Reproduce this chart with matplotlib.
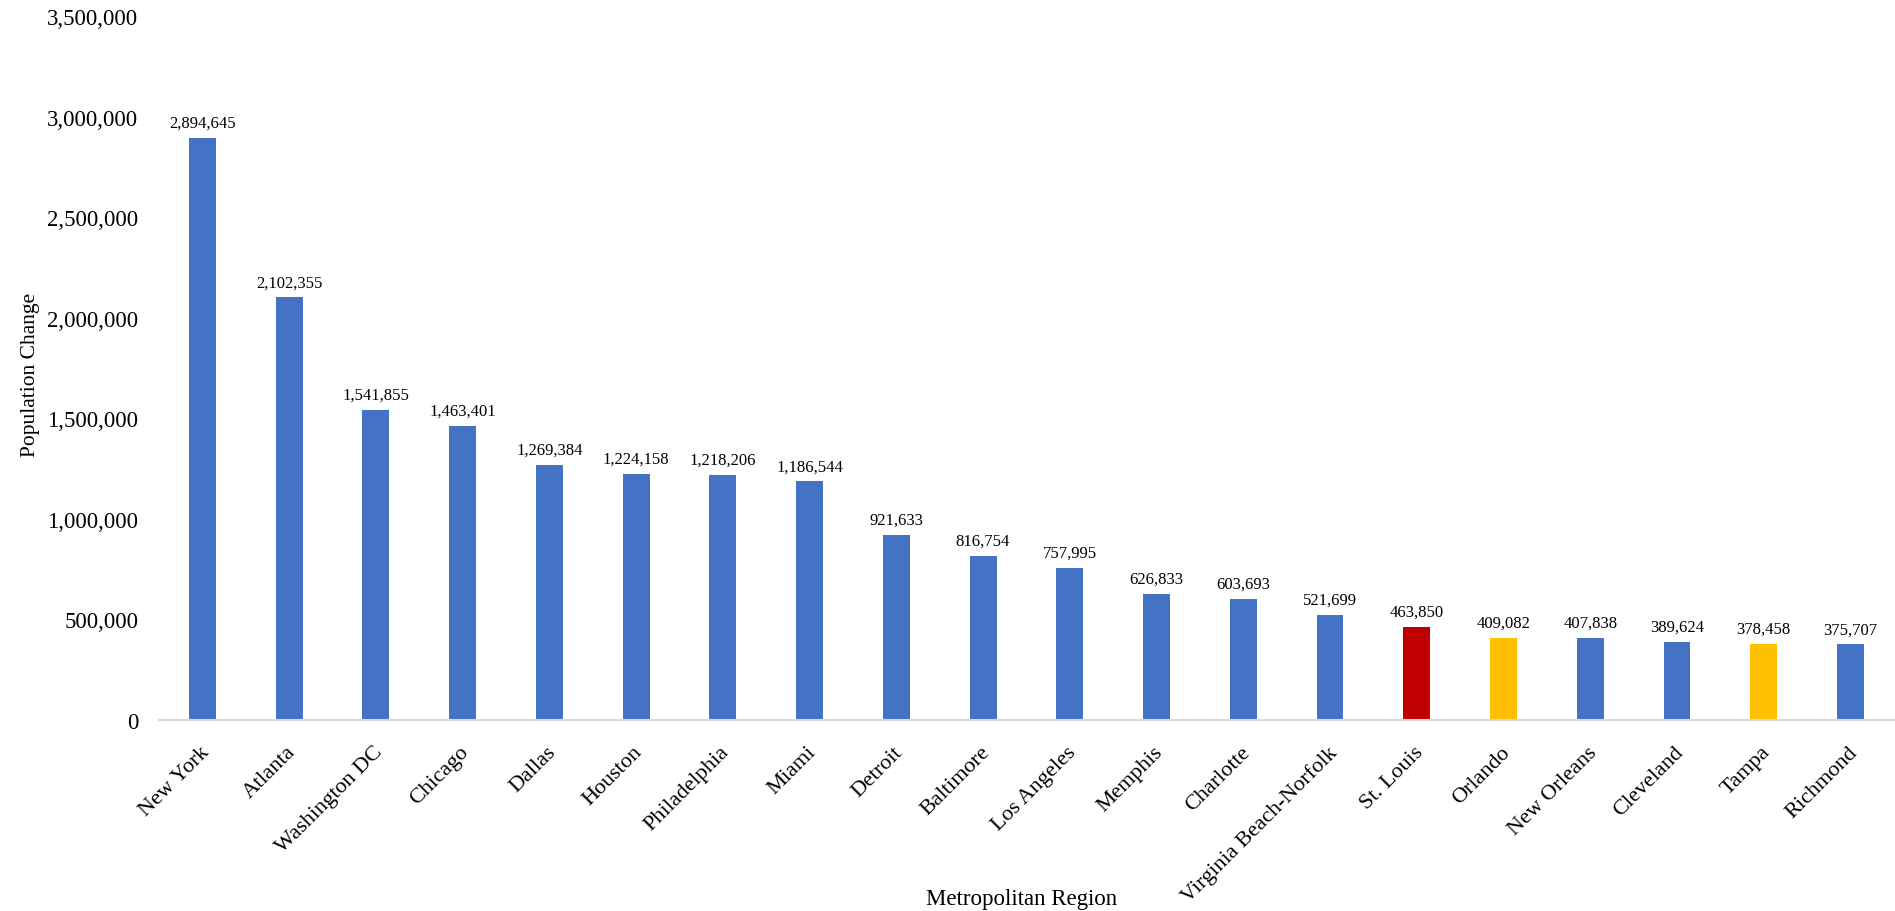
import matplotlib
matplotlib.use("Agg")
import matplotlib.pyplot as plt
import matplotlib.transforms as mtransforms
from matplotlib.ticker import FuncFormatter

regions = ["New York", "Atlanta", "Washington DC", "Chicago", "Dallas", "Houston",
           "Philadelphia", "Miami", "Detroit", "Baltimore", "Los Angeles", "Memphis",
           "Charlotte", "Virginia Beach-Norfolk", "St. Louis", "Orlando",
           "New Orleans", "Cleveland", "Tampa", "Richmond"]
change = [2894645, 2102355, 1541855, 1463401, 1269384, 1224158, 1218206, 1186544,
          921633, 816754, 757995, 626833, 603693, 521699, 463850, 409082,
          407838, 389624, 378458, 375707]
highlight = {"St. Louis": "#C00000", "Orlando": "#FFC000", "Tampa": "#FFC000"}

plt.rcParams['font.family'] = ['Liberation Serif', 'DejaVu Serif']

fig = plt.figure(figsize=(18.95, 9.12), dpi=100)
ax = fig.add_axes([0.0839, 0.2094, 0.9155, 0.772])

colors = [highlight.get(r, "#4472C4") for r in regions]
x = list(range(len(regions)))
bars = ax.bar(x, change, width=0.31, color=colors)

for b, v in zip(bars, change):
    ax.annotate("{:,}".format(v), (b.get_x() + b.get_width() / 2, v),
                xytext=(0, 5), textcoords="offset points",
                ha="center", va="bottom", fontsize=12)

ax.set_xlim(-0.5, len(regions) - 0.5)
ax.set_ylim(0, 3500000)
ax.set_yticks(range(0, 3500001, 500000))
ax.yaxis.set_major_formatter(FuncFormatter(lambda v, p: "{:,}".format(int(v))))
ax.tick_params(axis="y", length=0, pad=15, labelsize=16.5)
ax.tick_params(axis="x", length=0, pad=16, labelsize=16)

ax.set_xticks(x)
ax.set_xticklabels(regions, rotation=45, ha="right", va="top", rotation_mode="anchor")
shift = mtransforms.ScaledTranslation(-3 / 100, 0, fig.dpi_scale_trans)
for lab in ax.get_xticklabels():
    lab.set_transform(lab.get_transform() + shift)

for s in ["top", "right", "left"]:
    ax.spines[s].set_visible(False)
ax.spines["bottom"].set_color("#d9d9d9")
ax.spines["bottom"].set_linewidth(1.5)

fig.text(31 / 1895, 1 - 375 / 912, "Population Change", rotation=90,
         ha="center", va="center", fontsize=15.5)
fig.text(1022 / 1895, 1 - 900 / 912, "Metropolitan Region",
         ha="center", va="center", fontsize=16.5)

plt.savefig("out.png", dpi=100)
